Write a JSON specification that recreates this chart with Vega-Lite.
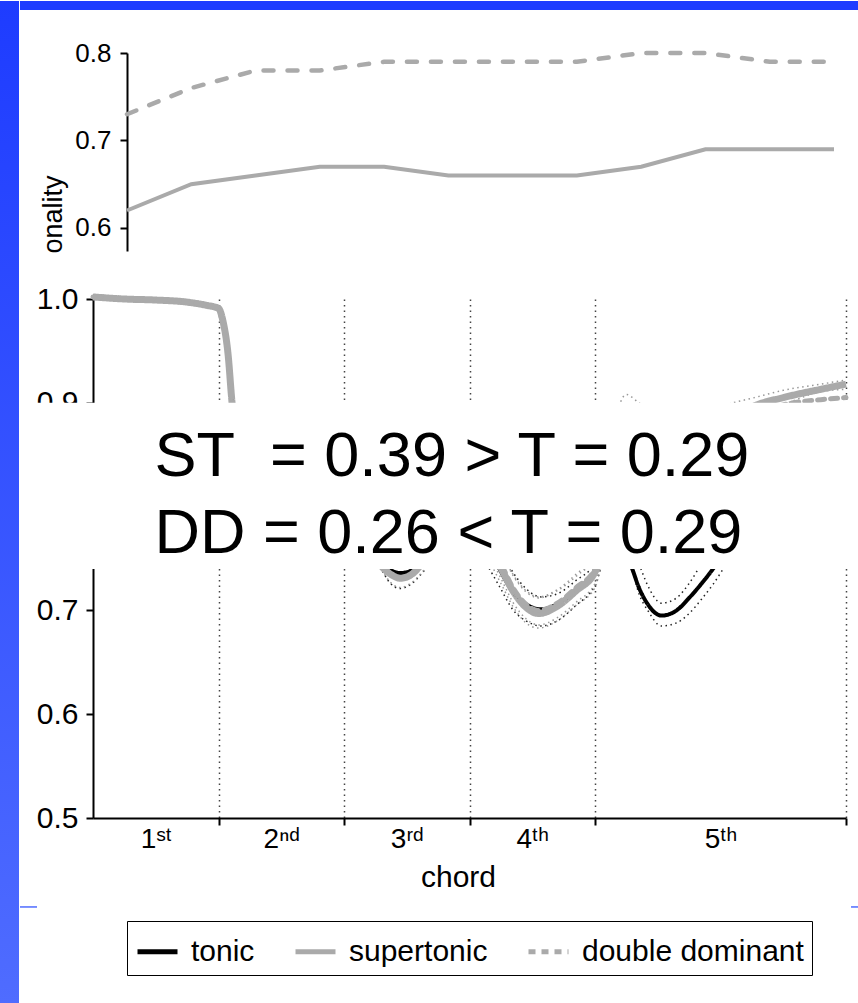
{
  "$schema": "https://vega.github.io/schema/vega-lite/v6.json",
  "padding": 0,
  "background": "white",
  "config": {
    "font": "Liberation Sans",
    "view": {"stroke": null},
    "axis": {"domainColor": "black", "domainWidth": 2, "tickColor": "black", "tickWidth": 2, "labelColor": "black", "titleColor": "black", "titleFontWeight": "normal", "labelFont": "Liberation Sans", "titleFont": "Liberation Sans", "grid": false},
    "legend": {"labelFont": "Liberation Sans", "labelColor": "black"},
    "text": {"font": "Liberation Sans"}
  },
  "spacing": 0,
  "resolve": {"scale": {"color": "independent", "strokeDash": "independent"}, "legend": {"color": "independent", "strokeDash": "independent"}},
  "hconcat": [
    {
      "width": 19,
      "height": 951,
      "data": {"values": [{"slide": "margin"}]},
      "mark": {"type": "rect", "color": {"gradient": "linear", "x1": 0, "y1": 0, "x2": 0, "y2": 1, "stops": [{"offset": 0, "color": "#1e3cff"}, {"offset": 1, "color": "#4f6cff"}]}},
      "encoding": {
        "x": {"datum": 0, "type": "quantitative", "scale": {"domain": [0, 1]}, "axis": null},
        "x2": {"datum": 1},
        "y": {"datum": 0, "type": "quantitative", "scale": {"domain": [0, 1], "nice": false, "zero": false}, "axis": null},
        "y2": {"datum": 1.0547}
      }
    },
    {
      "spacing": 29,
      "resolve": {"scale": {"color": "independent", "strokeDash": "independent"}, "legend": {"color": "independent", "strokeDash": "independent"}},
      "vconcat": [
        {
          "width": 741,
          "height": 198,
          "data": {"values": [
            {"series": "supertonic", "step": 0, "tonality": 0.62},
            {"series": "supertonic", "step": 1, "tonality": 0.65},
            {"series": "supertonic", "step": 2, "tonality": 0.66},
            {"series": "supertonic", "step": 3, "tonality": 0.67},
            {"series": "supertonic", "step": 4, "tonality": 0.67},
            {"series": "supertonic", "step": 5, "tonality": 0.66},
            {"series": "supertonic", "step": 6, "tonality": 0.66},
            {"series": "supertonic", "step": 7, "tonality": 0.66},
            {"series": "supertonic", "step": 8, "tonality": 0.67},
            {"series": "supertonic", "step": 9, "tonality": 0.69},
            {"series": "supertonic", "step": 10, "tonality": 0.69},
            {"series": "supertonic", "step": 11, "tonality": 0.69},
            {"series": "double dominant", "step": 0, "tonality": 0.73},
            {"series": "double dominant", "step": 1, "tonality": 0.76},
            {"series": "double dominant", "step": 2, "tonality": 0.78},
            {"series": "double dominant", "step": 3, "tonality": 0.78},
            {"series": "double dominant", "step": 4, "tonality": 0.79},
            {"series": "double dominant", "step": 5, "tonality": 0.79},
            {"series": "double dominant", "step": 6, "tonality": 0.79},
            {"series": "double dominant", "step": 7, "tonality": 0.79},
            {"series": "double dominant", "step": 8, "tonality": 0.80},
            {"series": "double dominant", "step": 9, "tonality": 0.80},
            {"series": "double dominant", "step": 10, "tonality": 0.79},
            {"series": "double dominant", "step": 11, "tonality": 0.79}
          ]},
          "layer": [
            {
              "data": {"values": [{"slide": "header"}]},
              "mark": {"type": "rect", "color": "#1e3cff"},
              "encoding": {
                "x": {"datum": -1.665, "type": "quantitative", "axis": null},
                "x2": {"datum": 11.389},
                "y": {"datum": 0.8491, "type": "quantitative"},
                "y2": {"datum": 0.8594}
              }
            },
            {
              "transform": [{"filter": "datum.series === 'supertonic'"}],
              "mark": {"type": "line", "color": "#aaaaaa", "strokeWidth": 4},
              "encoding": {
                "x": {"field": "step", "type": "quantitative", "scale": {"domain": [-0.529, 11], "nice": false, "zero": false}, "axis": null},
                "y": {"field": "tonality", "type": "quantitative", "scale": {"domain": [0.5737, 0.8], "nice": false, "zero": false},
                  "axis": {"values": [0.6, 0.7, 0.8], "format": ".1f", "labelFontSize": 26, "tickSize": 7, "labelPadding": 9, "offset": -34,
                    "title": "onality", "titleFontSize": 27, "titleAngle": 270, "titleAlign": "left", "titleBaseline": "alphabetic", "titleX": -66, "titleY": 200}}
              }
            },
            {
              "transform": [{"filter": "datum.series === 'double dominant'"}],
              "mark": {"type": "line", "color": "#aaaaaa", "strokeWidth": 4.5, "strokeDash": [10, 14], "strokeCap": "round"},
              "encoding": {
                "x": {"field": "step", "type": "quantitative", "axis": null},
                "y": {"field": "tonality", "type": "quantitative"}
              }
            }
          ]
        },
        {
          "width": 753,
          "height": 519,
          "data": {"values": [
            {"series": "tonic", "chord_position": 0, "tonality": 1.002, "ci_low": 1.0, "ci_high": 1.004},
            {"series": "tonic", "chord_position": 0.25, "tonality": 1.0, "ci_low": 0.998, "ci_high": 1.002},
            {"series": "tonic", "chord_position": 0.5, "tonality": 0.999, "ci_low": 0.997, "ci_high": 1.001},
            {"series": "tonic", "chord_position": 0.75, "tonality": 0.997, "ci_low": 0.995, "ci_high": 0.999},
            {"series": "tonic", "chord_position": 0.9, "tonality": 0.994, "ci_low": 0.992, "ci_high": 0.996},
            {"series": "tonic", "chord_position": 1.0, "tonality": 0.991, "ci_low": 0.989, "ci_high": 0.993},
            {"series": "tonic", "chord_position": 1.035, "tonality": 0.979, "ci_low": 0.977, "ci_high": 0.981},
            {"series": "tonic", "chord_position": 1.076, "tonality": 0.947, "ci_low": 0.944, "ci_high": 0.95},
            {"series": "tonic", "chord_position": 1.108, "tonality": 0.9, "ci_low": 0.895, "ci_high": 0.905},
            {"series": "tonic", "chord_position": 1.15, "tonality": 0.855, "ci_low": 0.848, "ci_high": 0.862},
            {"series": "tonic", "chord_position": 1.25, "tonality": 0.81, "ci_low": 0.795, "ci_high": 0.825},
            {"series": "tonic", "chord_position": 1.5, "tonality": 0.79, "ci_low": 0.775, "ci_high": 0.805},
            {"series": "tonic", "chord_position": 1.75, "tonality": 0.785, "ci_low": 0.77, "ci_high": 0.8},
            {"series": "tonic", "chord_position": 2.0, "tonality": 0.79, "ci_low": 0.775, "ci_high": 0.805},
            {"series": "tonic", "chord_position": 2.15, "tonality": 0.78, "ci_low": 0.765, "ci_high": 0.8},
            {"series": "tonic", "chord_position": 2.29, "tonality": 0.748, "ci_low": 0.741, "ci_high": 0.77},
            {"series": "tonic", "chord_position": 2.37, "tonality": 0.739, "ci_low": 0.726, "ci_high": 0.757},
            {"series": "tonic", "chord_position": 2.45, "tonality": 0.736, "ci_low": 0.721, "ci_high": 0.752},
            {"series": "tonic", "chord_position": 2.53, "tonality": 0.738, "ci_low": 0.725, "ci_high": 0.755},
            {"series": "tonic", "chord_position": 2.65, "tonality": 0.752, "ci_low": 0.74, "ci_high": 0.77},
            {"series": "tonic", "chord_position": 2.8, "tonality": 0.78, "ci_low": 0.765, "ci_high": 0.795},
            {"series": "tonic", "chord_position": 2.95, "tonality": 0.795, "ci_low": 0.78, "ci_high": 0.81},
            {"series": "tonic", "chord_position": 3.1, "tonality": 0.77, "ci_low": 0.752, "ci_high": 0.79},
            {"series": "tonic", "chord_position": 3.23, "tonality": 0.742, "ci_low": 0.725, "ci_high": 0.762},
            {"series": "tonic", "chord_position": 3.35, "tonality": 0.717, "ci_low": 0.7, "ci_high": 0.736},
            {"series": "tonic", "chord_position": 3.45, "tonality": 0.706, "ci_low": 0.69, "ci_high": 0.721},
            {"series": "tonic", "chord_position": 3.57, "tonality": 0.701, "ci_low": 0.685, "ci_high": 0.713},
            {"series": "tonic", "chord_position": 3.7, "tonality": 0.706, "ci_low": 0.69, "ci_high": 0.716},
            {"series": "tonic", "chord_position": 3.85, "tonality": 0.72, "ci_low": 0.705, "ci_high": 0.729},
            {"series": "tonic", "chord_position": 4.0, "tonality": 0.738, "ci_low": 0.724, "ci_high": 0.746},
            {"series": "tonic", "chord_position": 4.1, "tonality": 0.77, "ci_low": 0.755, "ci_high": 0.785},
            {"series": "tonic", "chord_position": 4.2, "tonality": 0.762, "ci_low": 0.75, "ci_high": 0.78},
            {"series": "tonic", "chord_position": 4.29, "tonality": 0.742, "ci_low": 0.741, "ci_high": 0.762},
            {"series": "tonic", "chord_position": 4.35, "tonality": 0.722, "ci_low": 0.716, "ci_high": 0.745},
            {"series": "tonic", "chord_position": 4.42, "tonality": 0.706, "ci_low": 0.7, "ci_high": 0.724},
            {"series": "tonic", "chord_position": 4.53, "tonality": 0.695, "ci_low": 0.685, "ci_high": 0.707},
            {"series": "tonic", "chord_position": 4.65, "tonality": 0.7, "ci_low": 0.688, "ci_high": 0.712},
            {"series": "tonic", "chord_position": 4.75, "tonality": 0.712, "ci_low": 0.697, "ci_high": 0.726},
            {"series": "tonic", "chord_position": 4.85, "tonality": 0.726, "ci_low": 0.711, "ci_high": 0.745},
            {"series": "tonic", "chord_position": 4.94, "tonality": 0.74, "ci_low": 0.725, "ci_high": 0.76},
            {"series": "tonic", "chord_position": 5.05, "tonality": 0.76, "ci_low": 0.745, "ci_high": 0.78},
            {"series": "tonic", "chord_position": 5.3, "tonality": 0.8, "ci_low": 0.78, "ci_high": 0.82},
            {"series": "tonic", "chord_position": 5.6, "tonality": 0.84, "ci_low": 0.82, "ci_high": 0.86},
            {"series": "tonic", "chord_position": 6.0, "tonality": 0.87, "ci_low": 0.85, "ci_high": 0.885},

            {"series": "supertonic", "chord_position": 0, "tonality": 1.002, "ci_low": 1.0, "ci_high": 1.004},
            {"series": "supertonic", "chord_position": 0.25, "tonality": 1.0, "ci_low": 0.998, "ci_high": 1.002},
            {"series": "supertonic", "chord_position": 0.5, "tonality": 0.999, "ci_low": 0.997, "ci_high": 1.001},
            {"series": "supertonic", "chord_position": 0.75, "tonality": 0.997, "ci_low": 0.995, "ci_high": 0.999},
            {"series": "supertonic", "chord_position": 0.9, "tonality": 0.994, "ci_low": 0.992, "ci_high": 0.996},
            {"series": "supertonic", "chord_position": 1.0, "tonality": 0.991, "ci_low": 0.989, "ci_high": 0.993},
            {"series": "supertonic", "chord_position": 1.035, "tonality": 0.979, "ci_low": 0.977, "ci_high": 0.981},
            {"series": "supertonic", "chord_position": 1.076, "tonality": 0.947, "ci_low": 0.944, "ci_high": 0.95},
            {"series": "supertonic", "chord_position": 1.108, "tonality": 0.9, "ci_low": 0.895, "ci_high": 0.905},
            {"series": "supertonic", "chord_position": 1.15, "tonality": 0.858, "ci_low": 0.85, "ci_high": 0.866},
            {"series": "supertonic", "chord_position": 1.25, "tonality": 0.815, "ci_low": 0.8, "ci_high": 0.83},
            {"series": "supertonic", "chord_position": 1.5, "tonality": 0.8, "ci_low": 0.785, "ci_high": 0.815},
            {"series": "supertonic", "chord_position": 1.75, "tonality": 0.79, "ci_low": 0.775, "ci_high": 0.805},
            {"series": "supertonic", "chord_position": 2.0, "tonality": 0.795, "ci_low": 0.78, "ci_high": 0.81},
            {"series": "supertonic", "chord_position": 2.15, "tonality": 0.78, "ci_low": 0.766, "ci_high": 0.796},
            {"series": "supertonic", "chord_position": 2.29, "tonality": 0.744, "ci_low": 0.741, "ci_high": 0.76},
            {"series": "supertonic", "chord_position": 2.37, "tonality": 0.735, "ci_low": 0.727, "ci_high": 0.75},
            {"series": "supertonic", "chord_position": 2.45, "tonality": 0.731, "ci_low": 0.722, "ci_high": 0.746},
            {"series": "supertonic", "chord_position": 2.53, "tonality": 0.734, "ci_low": 0.726, "ci_high": 0.75},
            {"series": "supertonic", "chord_position": 2.65, "tonality": 0.75, "ci_low": 0.741, "ci_high": 0.765},
            {"series": "supertonic", "chord_position": 2.8, "tonality": 0.78, "ci_low": 0.77, "ci_high": 0.795},
            {"series": "supertonic", "chord_position": 2.95, "tonality": 0.795, "ci_low": 0.78, "ci_high": 0.81},
            {"series": "supertonic", "chord_position": 3.1, "tonality": 0.775, "ci_low": 0.76, "ci_high": 0.79},
            {"series": "supertonic", "chord_position": 3.25, "tonality": 0.741, "ci_low": 0.726, "ci_high": 0.757},
            {"series": "supertonic", "chord_position": 3.35, "tonality": 0.718, "ci_low": 0.703, "ci_high": 0.733},
            {"series": "supertonic", "chord_position": 3.45, "tonality": 0.703, "ci_low": 0.688, "ci_high": 0.718},
            {"series": "supertonic", "chord_position": 3.55, "tonality": 0.697, "ci_low": 0.683, "ci_high": 0.712},
            {"series": "supertonic", "chord_position": 3.7, "tonality": 0.704, "ci_low": 0.69, "ci_high": 0.719},
            {"series": "supertonic", "chord_position": 3.85, "tonality": 0.719, "ci_low": 0.705, "ci_high": 0.733},
            {"series": "supertonic", "chord_position": 4.0, "tonality": 0.737, "ci_low": 0.722, "ci_high": 0.752},
            {"series": "supertonic", "chord_position": 4.05, "tonality": 0.76, "ci_low": 0.745, "ci_high": 0.78},
            {"series": "supertonic", "chord_position": 4.15, "tonality": 0.845, "ci_low": 0.82, "ci_high": 0.875},
            {"series": "supertonic", "chord_position": 4.25, "tonality": 0.885, "ci_low": 0.862, "ci_high": 0.908},
            {"series": "supertonic", "chord_position": 4.35, "tonality": 0.878, "ci_low": 0.856, "ci_high": 0.9},
            {"series": "supertonic", "chord_position": 4.5, "tonality": 0.87, "ci_low": 0.85, "ci_high": 0.89},
            {"series": "supertonic", "chord_position": 4.8, "tonality": 0.872, "ci_low": 0.852, "ci_high": 0.888},
            {"series": "supertonic", "chord_position": 5.1, "tonality": 0.886, "ci_low": 0.872, "ci_high": 0.9},
            {"series": "supertonic", "chord_position": 5.27, "tonality": 0.897, "ci_low": 0.882, "ci_high": 0.905},
            {"series": "supertonic", "chord_position": 5.5, "tonality": 0.905, "ci_low": 0.89, "ci_high": 0.912},
            {"series": "supertonic", "chord_position": 5.8, "tonality": 0.913, "ci_low": 0.896, "ci_high": 0.918},
            {"series": "supertonic", "chord_position": 6.0, "tonality": 0.918, "ci_low": 0.898, "ci_high": 0.922},

            {"series": "double dominant", "chord_position": 0, "tonality": 1.002, "ci_low": 1.0, "ci_high": 1.004},
            {"series": "double dominant", "chord_position": 0.25, "tonality": 1.0, "ci_low": 0.998, "ci_high": 1.002},
            {"series": "double dominant", "chord_position": 0.5, "tonality": 0.999, "ci_low": 0.997, "ci_high": 1.001},
            {"series": "double dominant", "chord_position": 0.75, "tonality": 0.997, "ci_low": 0.995, "ci_high": 0.999},
            {"series": "double dominant", "chord_position": 0.9, "tonality": 0.994, "ci_low": 0.992, "ci_high": 0.996},
            {"series": "double dominant", "chord_position": 1.0, "tonality": 0.991, "ci_low": 0.989, "ci_high": 0.993},
            {"series": "double dominant", "chord_position": 1.035, "tonality": 0.979, "ci_low": 0.977, "ci_high": 0.981},
            {"series": "double dominant", "chord_position": 1.076, "tonality": 0.947, "ci_low": 0.944, "ci_high": 0.95},
            {"series": "double dominant", "chord_position": 1.108, "tonality": 0.9, "ci_low": 0.895, "ci_high": 0.905},
            {"series": "double dominant", "chord_position": 1.15, "tonality": 0.86, "ci_low": 0.852, "ci_high": 0.868},
            {"series": "double dominant", "chord_position": 1.25, "tonality": 0.82, "ci_low": 0.805, "ci_high": 0.835},
            {"series": "double dominant", "chord_position": 1.5, "tonality": 0.81, "ci_low": 0.795, "ci_high": 0.825},
            {"series": "double dominant", "chord_position": 1.75, "tonality": 0.8, "ci_low": 0.785, "ci_high": 0.815},
            {"series": "double dominant", "chord_position": 2.0, "tonality": 0.805, "ci_low": 0.79, "ci_high": 0.82},
            {"series": "double dominant", "chord_position": 2.15, "tonality": 0.79, "ci_low": 0.78, "ci_high": 0.805},
            {"series": "double dominant", "chord_position": 2.29, "tonality": 0.76, "ci_low": 0.755, "ci_high": 0.775},
            {"series": "double dominant", "chord_position": 2.37, "tonality": 0.752, "ci_low": 0.747, "ci_high": 0.765},
            {"series": "double dominant", "chord_position": 2.45, "tonality": 0.748, "ci_low": 0.743, "ci_high": 0.761},
            {"series": "double dominant", "chord_position": 2.53, "tonality": 0.75, "ci_low": 0.745, "ci_high": 0.763},
            {"series": "double dominant", "chord_position": 2.65, "tonality": 0.765, "ci_low": 0.76, "ci_high": 0.778},
            {"series": "double dominant", "chord_position": 2.8, "tonality": 0.79, "ci_low": 0.78, "ci_high": 0.8},
            {"series": "double dominant", "chord_position": 2.95, "tonality": 0.8, "ci_low": 0.787, "ci_high": 0.813},
            {"series": "double dominant", "chord_position": 3.1, "tonality": 0.778, "ci_low": 0.765, "ci_high": 0.791},
            {"series": "double dominant", "chord_position": 3.25, "tonality": 0.745, "ci_low": 0.731, "ci_high": 0.758},
            {"series": "double dominant", "chord_position": 3.35, "tonality": 0.721, "ci_low": 0.707, "ci_high": 0.734},
            {"series": "double dominant", "chord_position": 3.45, "tonality": 0.706, "ci_low": 0.692, "ci_high": 0.719},
            {"series": "double dominant", "chord_position": 3.55, "tonality": 0.7, "ci_low": 0.686, "ci_high": 0.713},
            {"series": "double dominant", "chord_position": 3.7, "tonality": 0.707, "ci_low": 0.693, "ci_high": 0.72},
            {"series": "double dominant", "chord_position": 3.85, "tonality": 0.722, "ci_low": 0.708, "ci_high": 0.735},
            {"series": "double dominant", "chord_position": 4.0, "tonality": 0.74, "ci_low": 0.726, "ci_high": 0.753},
            {"series": "double dominant", "chord_position": 4.05, "tonality": 0.765, "ci_low": 0.75, "ci_high": 0.78},
            {"series": "double dominant", "chord_position": 4.15, "tonality": 0.84, "ci_low": 0.825, "ci_high": 0.855},
            {"series": "double dominant", "chord_position": 4.25, "tonality": 0.87, "ci_low": 0.855, "ci_high": 0.885},
            {"series": "double dominant", "chord_position": 4.35, "tonality": 0.872, "ci_low": 0.857, "ci_high": 0.886},
            {"series": "double dominant", "chord_position": 4.5, "tonality": 0.868, "ci_low": 0.853, "ci_high": 0.882},
            {"series": "double dominant", "chord_position": 4.8, "tonality": 0.87, "ci_low": 0.855, "ci_high": 0.884},
            {"series": "double dominant", "chord_position": 5.1, "tonality": 0.88, "ci_low": 0.866, "ci_high": 0.892},
            {"series": "double dominant", "chord_position": 5.3, "tonality": 0.89, "ci_low": 0.877, "ci_high": 0.896},
            {"series": "double dominant", "chord_position": 5.5, "tonality": 0.898, "ci_low": 0.885, "ci_high": 0.899},
            {"series": "double dominant", "chord_position": 5.8, "tonality": 0.903, "ci_low": 0.89, "ci_high": 0.911},
            {"series": "double dominant", "chord_position": 6.0, "tonality": 0.905, "ci_low": 0.892, "ci_high": 0.913}
          ]},
          "layer": [
            {
              "mark": {"type": "line", "strokeDash": [1.5, 3.5], "strokeWidth": 1.5, "interpolate": "monotone"},
              "encoding": {
                "x": {"field": "chord_position", "type": "quantitative", "scale": {"domain": [0, 6], "nice": false, "zero": false},
                  "axis": {
                    "values": [0.5, 1, 1.5, 2, 2.5, 3, 3.5, 4, 5, 6],
                    "labelExpr": "datum.value === 0.5 ? '1ˢᵗ' : datum.value === 1.5 ? '2ⁿᵈ' : datum.value === 2.5 ? '3ʳᵈ' : datum.value === 3.5 ? '4ᵗʰ' : datum.value === 5 ? '5ᵗʰ' : ''",
                    "labelFontSize": 28, "labelOverlap": false, "labelFlush": false, "labelPadding": 0, "tickSize": 7,
                    "tickOpacity": {"condition": {"test": "indexof([1,2,3,4,6], datum.value) >= 0", "value": 1}, "value": 0},
                    "grid": true,
                    "gridOpacity": {"condition": {"test": "indexof([1,2,3,4,6], datum.value) >= 0", "value": 1}, "value": 0},
                    "gridColor": "#444444", "gridDash": [1.5, 4], "gridWidth": 1.5,
                    "title": "chord", "titleFontSize": 30, "titleX": 365, "titleY": 68, "titleBaseline": "alphabetic"
                  }},
                "y": {"field": "ci_high", "type": "quantitative", "scale": {"domain": [0.5, 1.0], "nice": false, "zero": false},
                  "axis": {"values": [0.5, 0.6, 0.7, 0.8, 0.9, 1.0], "format": ".1f", "labelFontSize": 30, "tickSize": 7, "labelPadding": 8, "title": null}},
                "detail": {"field": "series"},
                "color": {"condition": {"test": "datum.series === 'tonic'", "value": "#222222"}, "value": "#999999"}
              }
            },
            {
              "mark": {"type": "line", "strokeDash": [1.5, 3.5], "strokeWidth": 1.5, "interpolate": "monotone"},
              "encoding": {
                "x": {"field": "chord_position", "type": "quantitative"},
                "y": {"field": "ci_low", "type": "quantitative"},
                "detail": {"field": "series"},
                "color": {"condition": {"test": "datum.series === 'tonic'", "value": "#222222"}, "value": "#999999"}
              }
            },
            {
              "transform": [{"filter": "datum.series === 'tonic'"}],
              "mark": {"type": "line", "strokeWidth": 4, "interpolate": "monotone"},
              "encoding": {
                "x": {"field": "chord_position", "type": "quantitative"},
                "y": {"field": "tonality", "type": "quantitative"},
                "color": {"field": "series", "type": "nominal",
                  "scale": {"domain": ["tonic", "supertonic", "double dominant"], "range": ["#000000", "#aaaaaa", "#aaaaaa"]},
                  "legend": {"orient": "none", "legendX": 34, "legendY": 622, "direction": "horizontal", "title": null,
                    "symbolType": "stroke", "symbolSize": 1600, "symbolStrokeWidth": 5, "labelFontSize": 30, "labelOffset": 11, "labelLimit": 400,
                    "columnPadding": 30, "padding": 8, "strokeColor": "black", "fillColor": "white"}},
                "strokeDash": {"field": "series", "type": "nominal",
                  "scale": {"domain": ["tonic", "supertonic", "double dominant"], "range": [[1, 0], [1, 0], [7, 6]]}}
              }
            },
            {
              "transform": [{"filter": "datum.series === 'supertonic'"}],
              "mark": {"type": "line", "strokeWidth": 7, "interpolate": "monotone"},
              "encoding": {
                "x": {"field": "chord_position", "type": "quantitative"},
                "y": {"field": "tonality", "type": "quantitative"},
                "color": {"field": "series", "type": "nominal"},
                "strokeDash": {"field": "series", "type": "nominal"}
              }
            },
            {
              "transform": [{"filter": "datum.series === 'double dominant'"}],
              "mark": {"type": "line", "strokeWidth": 5, "strokeCap": "round", "interpolate": "monotone"},
              "encoding": {
                "x": {"field": "chord_position", "type": "quantitative"},
                "y": {"field": "tonality", "type": "quantitative"},
                "color": {"field": "series", "type": "nominal"},
                "strokeDash": {"field": "series", "type": "nominal"}
              }
            },
            {
              "data": {"values": [{"panel": "annotation"}]},
              "mark": {"type": "rect", "color": "white"},
              "encoding": {
                "x": {"datum": -0.5817, "type": "quantitative"},
                "x2": {"datum": 6.104},
                "y": {"datum": 0.74, "type": "quantitative"},
                "y2": {"datum": 0.9}
              }
            },
            {
              "data": {"values": [{"panel": "annotation"}]},
              "mark": {"type": "text", "text": ["ST\u00a0 = 0.39 > T = 0.29", "DD = 0.26 < T = 0.29"], "fontSize": 63, "align": "left", "baseline": "alphabetic", "lineHeight": 77, "color": "black"},
              "encoding": {
                "x": {"datum": 0.49, "type": "quantitative"},
                "y": {"datum": 0.8295, "type": "quantitative"}
              }
            },
            {
              "data": {"values": [{"slide": "rule"}]},
              "mark": {"type": "rule", "color": "#4f6cff", "strokeWidth": 1.5},
              "encoding": {
                "x": {"datum": -0.5817, "type": "quantitative"},
                "x2": {"datum": -0.4462},
                "y": {"datum": 0.4143, "type": "quantitative"}
              }
            },
            {
              "data": {"values": [{"slide": "rule"}]},
              "mark": {"type": "rule", "color": "#4f6cff", "strokeWidth": 1.5},
              "encoding": {
                "x": {"datum": 6.04, "type": "quantitative"},
                "x2": {"datum": 6.104},
                "y": {"datum": 0.4143, "type": "quantitative"}
              }
            }
          ]
        }
      ]
    }
  ]
}
